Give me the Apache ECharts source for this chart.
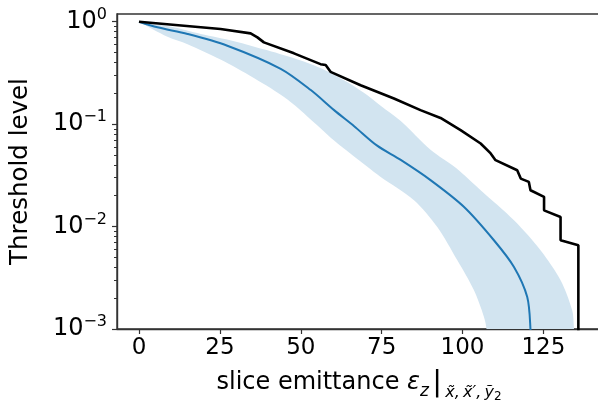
<!DOCTYPE html>
<html>
<head>
<meta charset="utf-8">
<script src="https://cdn.jsdelivr.net/npm/echarts@6/dist/echarts.min.js"></script>
<style>html,body{margin:0;padding:0;background:#fff}#c{width:598px;height:403px}</style>
</head>
<body>
<div id="c"></div>
<script>
// ---- data ----
const xTicks = [0, 25, 50, 75, 100, 125];
const yMajorTicks = [0.001, 0.01, 0.1, 1];
const yMinorTicks = [0.002,0.003,0.004,0.005,0.006,0.007,0.008,0.009,
                     0.02,0.03,0.04,0.05,0.06,0.07,0.08,0.09,
                     0.2,0.3,0.4,0.5,0.6,0.7,0.8,0.9];

const blackX = [0, 25.2, 34.5, 36.6, 38.6, 47.9, 56.1, 57.7, 59.2, 68.5, 78.8, 87.0, 93.2, 99.4, 105.6, 108.7, 110.2, 116.9, 118.0, 120.5, 121.0, 125.2, 125.2, 130.3, 130.3, 135.8, 135.8];
const blackY = [1, 0.849, 0.769, 0.703, 0.628, 0.491, 0.385, 0.378, 0.324, 0.240, 0.178, 0.137, 0.115, 0.0873, 0.0647, 0.0518, 0.0445, 0.0355, 0.0294, 0.0273, 0.0226, 0.0195, 0.0144, 0.0124, 0.00735, 0.00656, 0.00001];

const medianX = [0, 5.7, 15, 27.3, 43.8, 53.1, 60.3, 66.5, 73.5, 80.9, 90.1, 100.4, 109.7, 115.9, 120.0, 121.0, 121.4];
const medianY = [1, 0.881, 0.759, 0.583, 0.347, 0.215, 0.137, 0.0955, 0.0620, 0.0447, 0.0284, 0.0156, 0.00735, 0.00403, 0.00205, 0.001, 0.0004];

const upperX = [0, 10, 19.1, 29.4, 39.7, 50, 58, 65, 70.6, 74.7, 80.9, 90.1, 98, 105.6, 115.9, 124.1, 130.3, 133.9, 134.4, 135];
const upperY = [1, 0.891, 0.759, 0.646, 0.525, 0.417, 0.331, 0.251, 0.191, 0.151, 0.107, 0.0562, 0.0372, 0.0226, 0.0115, 0.00587, 0.00299, 0.00152, 0.00105, 0.0004];

const lowerX = [0, 8.8, 15, 25.2, 35.5, 45.9, 56.1, 60.3, 70.6, 74.7, 85, 92.2, 98.4, 103.5, 106.6, 107.4, 108];
const lowerY = [1, 0.713, 0.603, 0.427, 0.282, 0.174, 0.0912, 0.0692, 0.0383, 0.0305, 0.0181, 0.00991, 0.00468, 0.0024, 0.00132, 0.001, 0.0004];

// ---- chart ----
const FONT = 'DejaVu Sans';
const AXIS_COLOR = '#333';
const chart = echarts.init(document.getElementById('c'), null, {renderer: 'canvas'});

function supLabel(v) {
  const e = Math.round(Math.log10(v));
  const s = e < 0 ? '\u2212' + (-e) : String(e);
  return '{b|10}{s|' + s + '}';
}

const pairs = (xs, ys) => xs.map((x, i) => [x, ys[i]]);

chart.setOption({
  animation: false,
  backgroundColor: '#fff',
  grid: {left: 117, top: 14, width: 484, height: 315, outerBoundsMode: 'none', containLabel: false,
         show: true, borderColor: AXIS_COLOR, borderWidth: 1.4, backgroundColor: 'transparent'},
  xAxis: {
    type: 'value', min: -6.8, max: 142.8,
    splitLine: {show: false},
    axisLine: {onZero: false, lineStyle: {color: AXIS_COLOR, width: 1.4}},
    axisTick: {customValues: xTicks, length: 5, lineStyle: {color: AXIS_COLOR, width: 1.2}},
    axisLabel: {customValues: xTicks, fontFamily: FONT, fontSize: 23, color: '#000', margin: 8},
    name: '{m|slice emittance }{e|\u03b5}{sub|z\u2009}{bar||}{sub2|\u2009x\u0303,\u2009x\u0303\u2032,\u2009y\u0303}{sub3|2}',
    nameLocation: 'middle', nameGap: 40,
    nameTextStyle: {
      fontFamily: FONT, fontSize: 24, color: '#000',
      rich: {
        m: {fontFamily: FONT, fontSize: 24, color: '#000', lineHeight: 28},
        e: {fontFamily: FONT, fontSize: 24, color: '#000', fontStyle: 'italic', lineHeight: 28},
        sub: {fontFamily: FONT, fontSize: 17, color: '#000', fontStyle: 'italic', verticalAlign: 'bottom', lineHeight: 17, padding: [0, 0, -3, 0]},
        bar: {fontFamily: FONT, fontSize: 29, color: '#000', lineHeight: 28},
        sub2: {fontFamily: FONT, fontSize: 16, color: '#000', fontStyle: 'italic', verticalAlign: 'bottom', lineHeight: 16, padding: [0, 0, -4, 0]},
        sub3: {fontFamily: FONT, fontSize: 12, color: '#000', verticalAlign: 'bottom', lineHeight: 12, padding: [0, 0, -6, 0]}
      }
    }
  },
  yAxis: [{
    type: 'log', min: 0.001, max: 1.189, logBase: 10,
    splitLine: {show: false},
    axisLine: {show: true, onZero: false, lineStyle: {color: AXIS_COLOR, width: 1.4}},
    axisTick: {customValues: yMajorTicks, length: 5, lineStyle: {color: AXIS_COLOR, width: 1.2}},
    axisLabel: {
      customValues: yMajorTicks, margin: 10, color: '#000',
      formatter: supLabel,
      rich: {
        b: {fontFamily: FONT, fontSize: 24, color: '#000', lineHeight: 30},
        s: {fontFamily: FONT, fontSize: 16, color: '#000', lineHeight: 18, verticalAlign: 'top'}
      }
    },
    name: 'Threshold level', nameLocation: 'middle', nameGap: 84, nameRotate: 90,
    nameTextStyle: {fontFamily: FONT, fontSize: 24.5, color: '#000'}
  }, {
    type: 'log', min: 0.001, max: 1.189, logBase: 10, position: 'left',
    splitLine: {show: false},
    axisLine: {show: false, onZero: false},
    axisTick: {customValues: yMinorTicks, length: 3, lineStyle: {color: AXIS_COLOR, width: 1}},
    axisLabel: {show: false}
  }],
  series: [{
    type: 'custom', clip: true, silent: true, z: 1,
    data: [[0, 1]],
    renderItem: function (params, api) {
      const pts = [];
      for (let i = 0; i < upperX.length; i++) pts.push(api.coord([upperX[i], upperY[i]]));
      for (let i = lowerX.length - 1; i >= 0; i--) pts.push(api.coord([lowerX[i], lowerY[i]]));
      return {type: 'polygon', shape: {points: pts, smooth: 0.3}, style: {fill: 'rgb(210,228,240)', stroke: null}};
    }
  }, {
    type: 'line', data: pairs(medianX, medianY), showSymbol: false, clip: true, z: 3, smooth: 0.3,
    lineStyle: {color: '#1f77b4', width: 2}
  }, {
    type: 'line', data: pairs(blackX, blackY), showSymbol: false, clip: true, z: 4,
    lineStyle: {color: '#000', width: 2.6}
  }]
});
</script>
</body>
</html>
